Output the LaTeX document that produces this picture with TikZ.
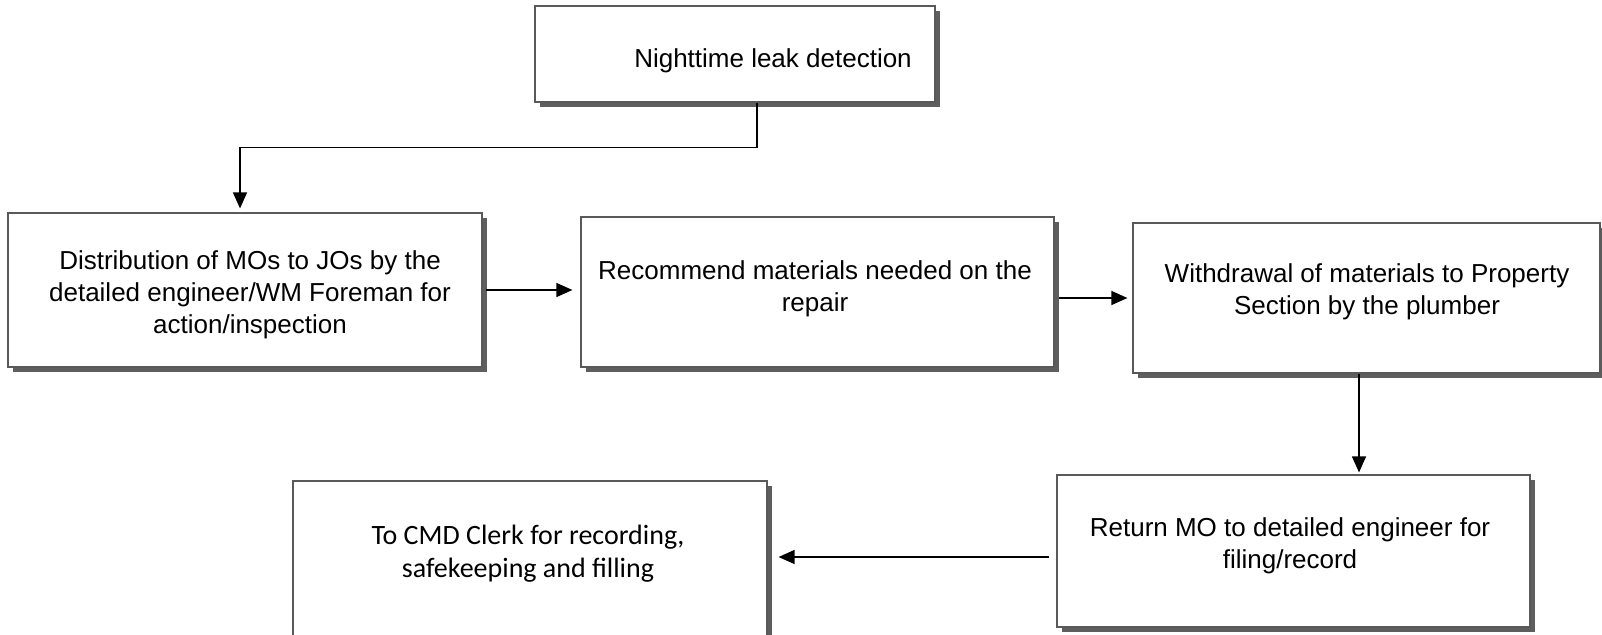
\documentclass[tikz,border=0pt]{standalone}
\usepackage{fontspec}
\setmainfont{Liberation Sans}
\newfontfamily\clerkfont{Carlito}
\usetikzlibrary{arrows.meta,shadows}

\begin{document}
\begin{tikzpicture}[x=1pt, y=-1pt,
    box/.style={rectangle, draw=black!65, line width=1.2pt, fill=white, inner sep=0pt,
      drop shadow={shadow xshift=5pt, shadow yshift=-5pt, fill=black!70, opacity=0.9}},
    txt/.style={anchor=north, inner sep=0pt, align=center, font=\fontsize{26}{32}\selectfont},
    flow/.style={-{Triangle[length=16pt,width=14pt]}, line width=1.3pt}]
    \useasboundingbox (0,0) rectangle (1602,634);

    % Boxes
    \node[box, minimum width=400pt, minimum height=96pt]  (night) at (735,54)     {};
    \node[box, minimum width=474pt, minimum height=154pt] (dist)  at (245,290)    {};
    \node[box, minimum width=473pt, minimum height=150pt] (rec)   at (817.5,292)  {};
    \node[box, minimum width=467pt, minimum height=150pt] (with)  at (1366.5,298) {};
    \node[box, minimum width=473pt, minimum height=152pt] (ret)   at (1293.5,551) {};
    \node[box, minimum width=474pt, minimum height=160pt] (clerk) at (530,561)    {};

    % Texts
    \node[txt] (tnight) at (773,48)  {Nighttime leak detection};
    \node[txt] (tdist)  at (250,250) {Distribution of MOs to JOs by the\\detailed engineer/WM Foreman for\\action/inspection};
    \node[txt] (trec)   at (815,260) {Recommend materials needed on the\\repair};
    \node[txt] (twith)  at (1367,263) {Withdrawal of materials to Property\\Section by the plumber};
    \node[txt] (tret)   at (1290,517) {Return MO to detailed engineer for\\filing/record};
    \node[txt, font=\clerkfont\fontsize{28}{33}\selectfont] (tclerk) at (528,525) {To CMD Clerk for recording,\\safekeeping and filling};

    % Arrows
    \draw[flow, shorten >=4pt] ([xshift=22pt]night.south) -- ++(0,45) -| ([xshift=-5pt]dist.north);
    \draw[flow, shorten <=3pt, shorten >=8pt] (dist.east) -- (dist.east -| rec.west);
    \draw[flow, shorten <=4pt, shorten >=5pt] (rec.east |- with.west) -- (with.west);
    \draw[flow, shorten >=2pt] ([xshift=-7.5pt]with.south) -- ([xshift=-7.5pt]with.south |- ret.north);
    \draw[flow, shorten <=7pt, shorten >=11pt] ([yshift=-6pt]ret.west) -- ([yshift=-6pt]ret.west -| clerk.east);
\end{tikzpicture}
\end{document}
